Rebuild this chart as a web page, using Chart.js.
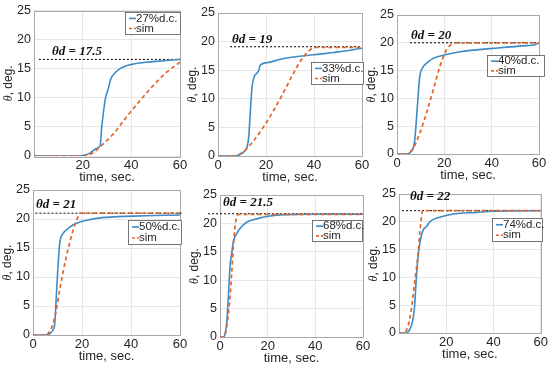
<!DOCTYPE html>
<html><head><meta charset="utf-8">
<script src="https://cdn.jsdelivr.net/npm/chart.js@4"></script>
<style>
html,body{margin:0;padding:0;background:#fff;}
#wrap{position:relative;width:550px;height:366px;overflow:hidden;background:#fff;}
canvas{position:absolute;left:0;top:0;}
</style></head><body><div id="wrap"></div>
<script>
// ---------- DATA ----------
const dutyLabels = ['27%d.c.', '33%d.c.', '40%d.c.', '50%d.c.', '68%d.c.', '74%d.c.'];
const simLabel = 'sim';
const desiredLabels = ['θd = 17.5', 'θd = 19', 'θd = 20', 'θd = 21', 'θd = 21.5', 'θd = 22'];
const desiredLevel = [16.6, 19.1, 20, 21, 21.7, 22];
const refLineStart = [2, 5, 5.5, 1, -5, 1.3];
const refLineEnd = [60, 60, 60, 61, 60, 60];
const xTicks = [0, 20, 40, 60];
const yTicks = [0, 5, 10, 15, 20, 25];
const showXZero = [false, true, true, true, true, false];

const expT27 = [0, 10, 18, 20, 23, 25.7, 27.2, 27.8, 29, 29.5, 30.5, 31.5, 32.5, 34, 36.7, 40.8, 46, 54.5, 60];
const expV27 = [0, 0, 0, 0.1, 0.5, 1.3, 1.8, 4.8, 9, 10.2, 11.5, 13.2, 13.9, 14.6, 15.3, 15.8, 16.1, 16.4, 16.6];
const simT27 = [0, 20, 22, 25, 27, 32.6, 38, 43.5, 49, 54.5, 60];
const simV27 = [0, 0, 0.1, 0.8, 1.5, 3.8, 6.7, 9.5, 12.1, 14.4, 16.1];

const expT33 = [0, 7, 9.3, 11.4, 12.1, 12.8, 13.5, 14.2, 15.1, 16.3, 17, 17.6, 20.4, 26, 31.5, 39.9, 48.2, 53.8, 60];
const expV33 = [0, 0, 0.3, 1, 1.6, 3.3, 8, 12.1, 13.9, 14.5, 15, 15.9, 16.3, 16.9, 17.3, 17.7, 18.1, 18.4, 18.85];
const simT33 = [0, 7, 9.3, 12.1, 14.9, 19, 23.2, 27.4, 31.5, 35.7, 38.5, 39.9, 60];
const simV33 = [0, 0, 0.4, 1.3, 2.7, 5.1, 8, 11.2, 14.5, 17.4, 18.6, 19, 19];

const expT40 = [0, 4, 5.4, 6.8, 7.5, 8.5, 9.6, 10.3, 12.4, 15.3, 20.9, 26.6, 40.7, 54.8, 58, 60];
const expV40 = [0, 0, 0.2, 1, 2.5, 7.9, 13.9, 15.1, 16.3, 17.2, 17.9, 18.4, 19, 19.5, 19.6, 20];
const simT40 = [0, 4, 6.8, 9.6, 12.4, 15.3, 18.1, 20.9, 23.7, 25.1, 60];
const simV40 = [0, 0, 1, 3.7, 7.3, 11.5, 15.7, 18.7, 19.9, 20, 20];

const expT50 = [0, 6, 6.8, 8.2, 8.9, 9.5, 10.2, 10.9, 12.3, 13.6, 16.4, 19.1, 21.8, 27.3, 40.9, 60];
const expV50 = [0, 0, 0.2, 0.9, 2, 6.6, 11.8, 15.8, 17.5, 18.1, 19, 19.5, 19.8, 20.2, 20.5, 20.7];
const simT50 = [0, 5, 6.8, 8.2, 9.5, 10.9, 13.6, 16.4, 18.4, 19.1, 60];
const simV50 = [0, 0, 0.6, 2, 4.3, 7.8, 13.5, 18.1, 20.4, 21, 21];

const expT68 = [0, 1.5, 2.1, 2.8, 3.5, 4.2, 4.9, 5.6, 7, 8.4, 11.2, 15.4, 19.6, 25.2, 40, 60];
const expV68 = [0, 0, 0.5, 2.4, 7, 12.4, 14.7, 16.8, 18.2, 19.1, 20.2, 20.8, 21.2, 21.5, 21.6, 21.6];
const simT68 = [0, 1.5, 2.8, 4.2, 4.9, 5.6, 6.3, 7, 8.1, 60];
const simV68 = [0, 0, 1.8, 7, 11.2, 15.9, 19.4, 21.2, 21.6, 21.6];

const expT74 = [0, 3, 4.5, 5.9, 6.6, 7.3, 8.1, 8.8, 10.2, 11.6, 13, 17.2, 22.9, 32.8, 39.8, 60];
const expV74 = [0, 0, 0.6, 2.4, 4.8, 9.6, 13.8, 16.1, 18.5, 19.1, 20, 20.8, 21.4, 21.7, 21.9, 22];
const simT74 = [0, 2, 3.8, 5.2, 6.6, 8.1, 8.8, 9.5, 9.9, 60];
const simV74 = [0, 0, 1.2, 4.2, 9, 14.4, 18, 20.9, 22, 22];

const expT = [expT27, expT33, expT40, expT50, expT68, expT74];
const expV = [expV27, expV33, expV40, expV50, expV68, expV74];
const simT = [simT27, simT33, simT40, simT50, simT68, simT74];
const simV = [simV27, simV33, simV40, simV50, simV68, simV74];

// ---------- LAYOUT (page pixels) ----------
const areas = [
  {l: 34, t: 10, r: 180, b: 156},
  {l: 218, t: 13, r: 362, b: 156},
  {l: 397, t: 15, r: 539, b: 154},
  {l: 33, t: 190, r: 180, b: 335},
  {l: 220, t: 195, r: 363, b: 337},
  {l: 399, t: 194, r: 541, b: 333}
];
const legendBoxes = [
  {l: 125, t: 12, r: 181, b: 35},
  {l: 311, t: 62, r: 364, b: 85},
  {l: 487, t: 55, r: 545, b: 77},
  {l: 128, t: 220, r: 182, b: 245},
  {l: 312, t: 220, r: 363, b: 242},
  {l: 492, t: 218, r: 543, b: 242}
];
const notePos = [
  {x: 52, y: 52}, {x: 232, y: 40}, {x: 411, y: 36},
  {x: 36, y: 205}, {x: 223, y: 203}, {x: 410, y: 197}
];

const BLUE = '#3d8cc6';
const ORANGE = '#e0662c';
const TICKC = '#262626';
const SANS = '"Liberation Sans", Arial, sans-serif';
const SERIF = '"Liberation Serif", "Times New Roman", serif';

function zip(ts, vs) { return ts.map((t, k) => ({x: t, y: vs[k]})); }

function panelPlugin(i) {
  return {
    id: 'panel' + i,
    beforeDatasetsDraw(chart) {
      const ctx = chart.ctx, a = chart.chartArea;
      ctx.save();
      ctx.strokeStyle = '#a9a9a9';
      ctx.lineWidth = 1;
      ctx.strokeRect(Math.round(a.left) + 0.5, Math.round(a.top) + 0.5,
        Math.round(a.right - a.left), Math.round(a.bottom - a.top));
      ctx.restore();
    },
    afterDraw(chart) {
      const ctx = chart.ctx, a = chart.chartArea;
      ctx.save();
      // y title
      ctx.translate(a.left - 25, (a.top + a.bottom) / 2);
      ctx.rotate(-Math.PI / 2);
      ctx.fillStyle = TICKC;
      ctx.textBaseline = 'middle';
      const f1 = 'italic 12px ' + SERIF, f2 = '12px ' + SANS;
      ctx.font = f1; const w1 = ctx.measureText('θ').width;
      ctx.font = f2; const w2 = ctx.measureText(', deg.').width;
      const x0 = -(w1 + w2) / 2;
      ctx.font = f1; ctx.textAlign = 'left'; ctx.fillText('θ', x0, 0);
      ctx.font = f2; ctx.fillText(', deg.', x0 + w1, 0);
      ctx.restore();
      // x title
      ctx.save();
      ctx.fillStyle = TICKC;
      ctx.font = '13px ' + SANS;
      ctx.textAlign = 'center';
      ctx.textBaseline = 'middle';
      ctx.fillText('time, sec.', (a.left + a.right) / 2, a.bottom + 21);
      ctx.restore();
      // annotation
      ctx.save();
      ctx.fillStyle = '#111';
      ctx.font = 'bold italic 13px ' + SERIF;
      ctx.textAlign = 'left';
      ctx.textBaseline = 'middle';
      ctx.fillText(desiredLabels[i], notePos[i].x, notePos[i].y);
      ctx.restore();
      // legend
      const lb = legendBoxes[i];
      ctx.save();
      ctx.fillStyle = '#fff';
      ctx.fillRect(lb.l, lb.t, lb.r - lb.l, lb.b - lb.t);
      ctx.strokeStyle = '#555';
      ctx.lineWidth = 0.8;
      ctx.strokeRect(lb.l + 0.5, lb.t + 0.5, lb.r - lb.l - 1, lb.b - lb.t - 1);
      const h = lb.b - lb.t;
      const y1 = lb.t + h * 0.28, y2 = lb.t + h * 0.72;
      ctx.lineWidth = 1.6;
      ctx.strokeStyle = BLUE;
      ctx.beginPath(); ctx.moveTo(lb.l + 4, y1); ctx.lineTo(lb.l + 11, y1); ctx.stroke();
      ctx.strokeStyle = ORANGE;
      ctx.setLineDash([3, 2]);
      ctx.beginPath(); ctx.moveTo(lb.l + 4, y2); ctx.lineTo(lb.l + 11, y2); ctx.stroke();
      ctx.setLineDash([]);
      ctx.fillStyle = TICKC;
      ctx.font = '11.5px ' + SANS;
      ctx.textAlign = 'left';
      ctx.textBaseline = 'middle';
      ctx.fillText(dutyLabels[i], lb.l + 11, y1);
      ctx.fillText(simLabel, lb.l + 11, y2);
      ctx.restore();
    }
  };
}

const wrap = document.getElementById('wrap');
const YW = 30, XH = 30;

function makeChart(i) {
  const A = areas[i];
  const c = document.createElement('canvas');
  c.width = 550; c.height = 366;
  c.style.width = '550px'; c.style.height = '366px';
  wrap.appendChild(c);
  new Chart(c, {
    type: 'line',
    data: {
      datasets: [
        {label: simLabel, data: zip(simT[i], simV[i]), borderColor: ORANGE, borderWidth: 1.7,
         borderDash: [4, 3], pointRadius: 0, cubicInterpolationMode: 'monotone', fill: false},
        {label: dutyLabels[i], data: zip(expT[i], expV[i]), borderColor: BLUE, borderWidth: 1.6,
         pointRadius: 0, cubicInterpolationMode: 'monotone', fill: false},
        {label: 'ref', data: [{x: refLineStart[i], y: desiredLevel[i]}, {x: refLineEnd[i], y: desiredLevel[i]}],
         borderColor: '#000', borderWidth: 1, borderDash: [2, 2], pointRadius: 0, clip: false, fill: false}
      ]
    },
    options: {
      responsive: false, animation: false, devicePixelRatio: 1,
      layout: {padding: {left: A.l - YW, top: A.t, right: 550 - A.r, bottom: 366 - A.b - XH}},
      plugins: {legend: {display: false}, tooltip: {enabled: false}},
      scales: {
        x: {
          type: 'linear', min: 0, max: 60,
          afterBuildTicks: s => { s.ticks = xTicks.map(v => ({value: v})); },
          afterFit: s => { s.height = XH; },
          grid: {color: '#e6e6e6', drawTicks: false},
          border: {display: false},
          ticks: {padding: 2, color: TICKC, font: {family: SANS, size: 13}, maxRotation: 0, autoSkip: false,
                  callback: v => (v === 0 && !showXZero[i]) ? '' : String(v)}
        },
        y: {
          type: 'linear', min: 0, max: 25,
          afterBuildTicks: s => { s.ticks = yTicks.map(v => ({value: v})); },
          afterFit: s => { s.width = YW; },
          grid: {color: '#e6e6e6', drawTicks: false},
          border: {display: false},
          ticks: {padding: 3, color: TICKC, font: {family: SANS, size: 12.5}, autoSkip: false,
                  callback: v => String(v)}
        }
      }
    },
    plugins: [panelPlugin(i)]
  });
}

for (let i = 0; i < 6; i++) makeChart(i);
</script>
</body></html>
